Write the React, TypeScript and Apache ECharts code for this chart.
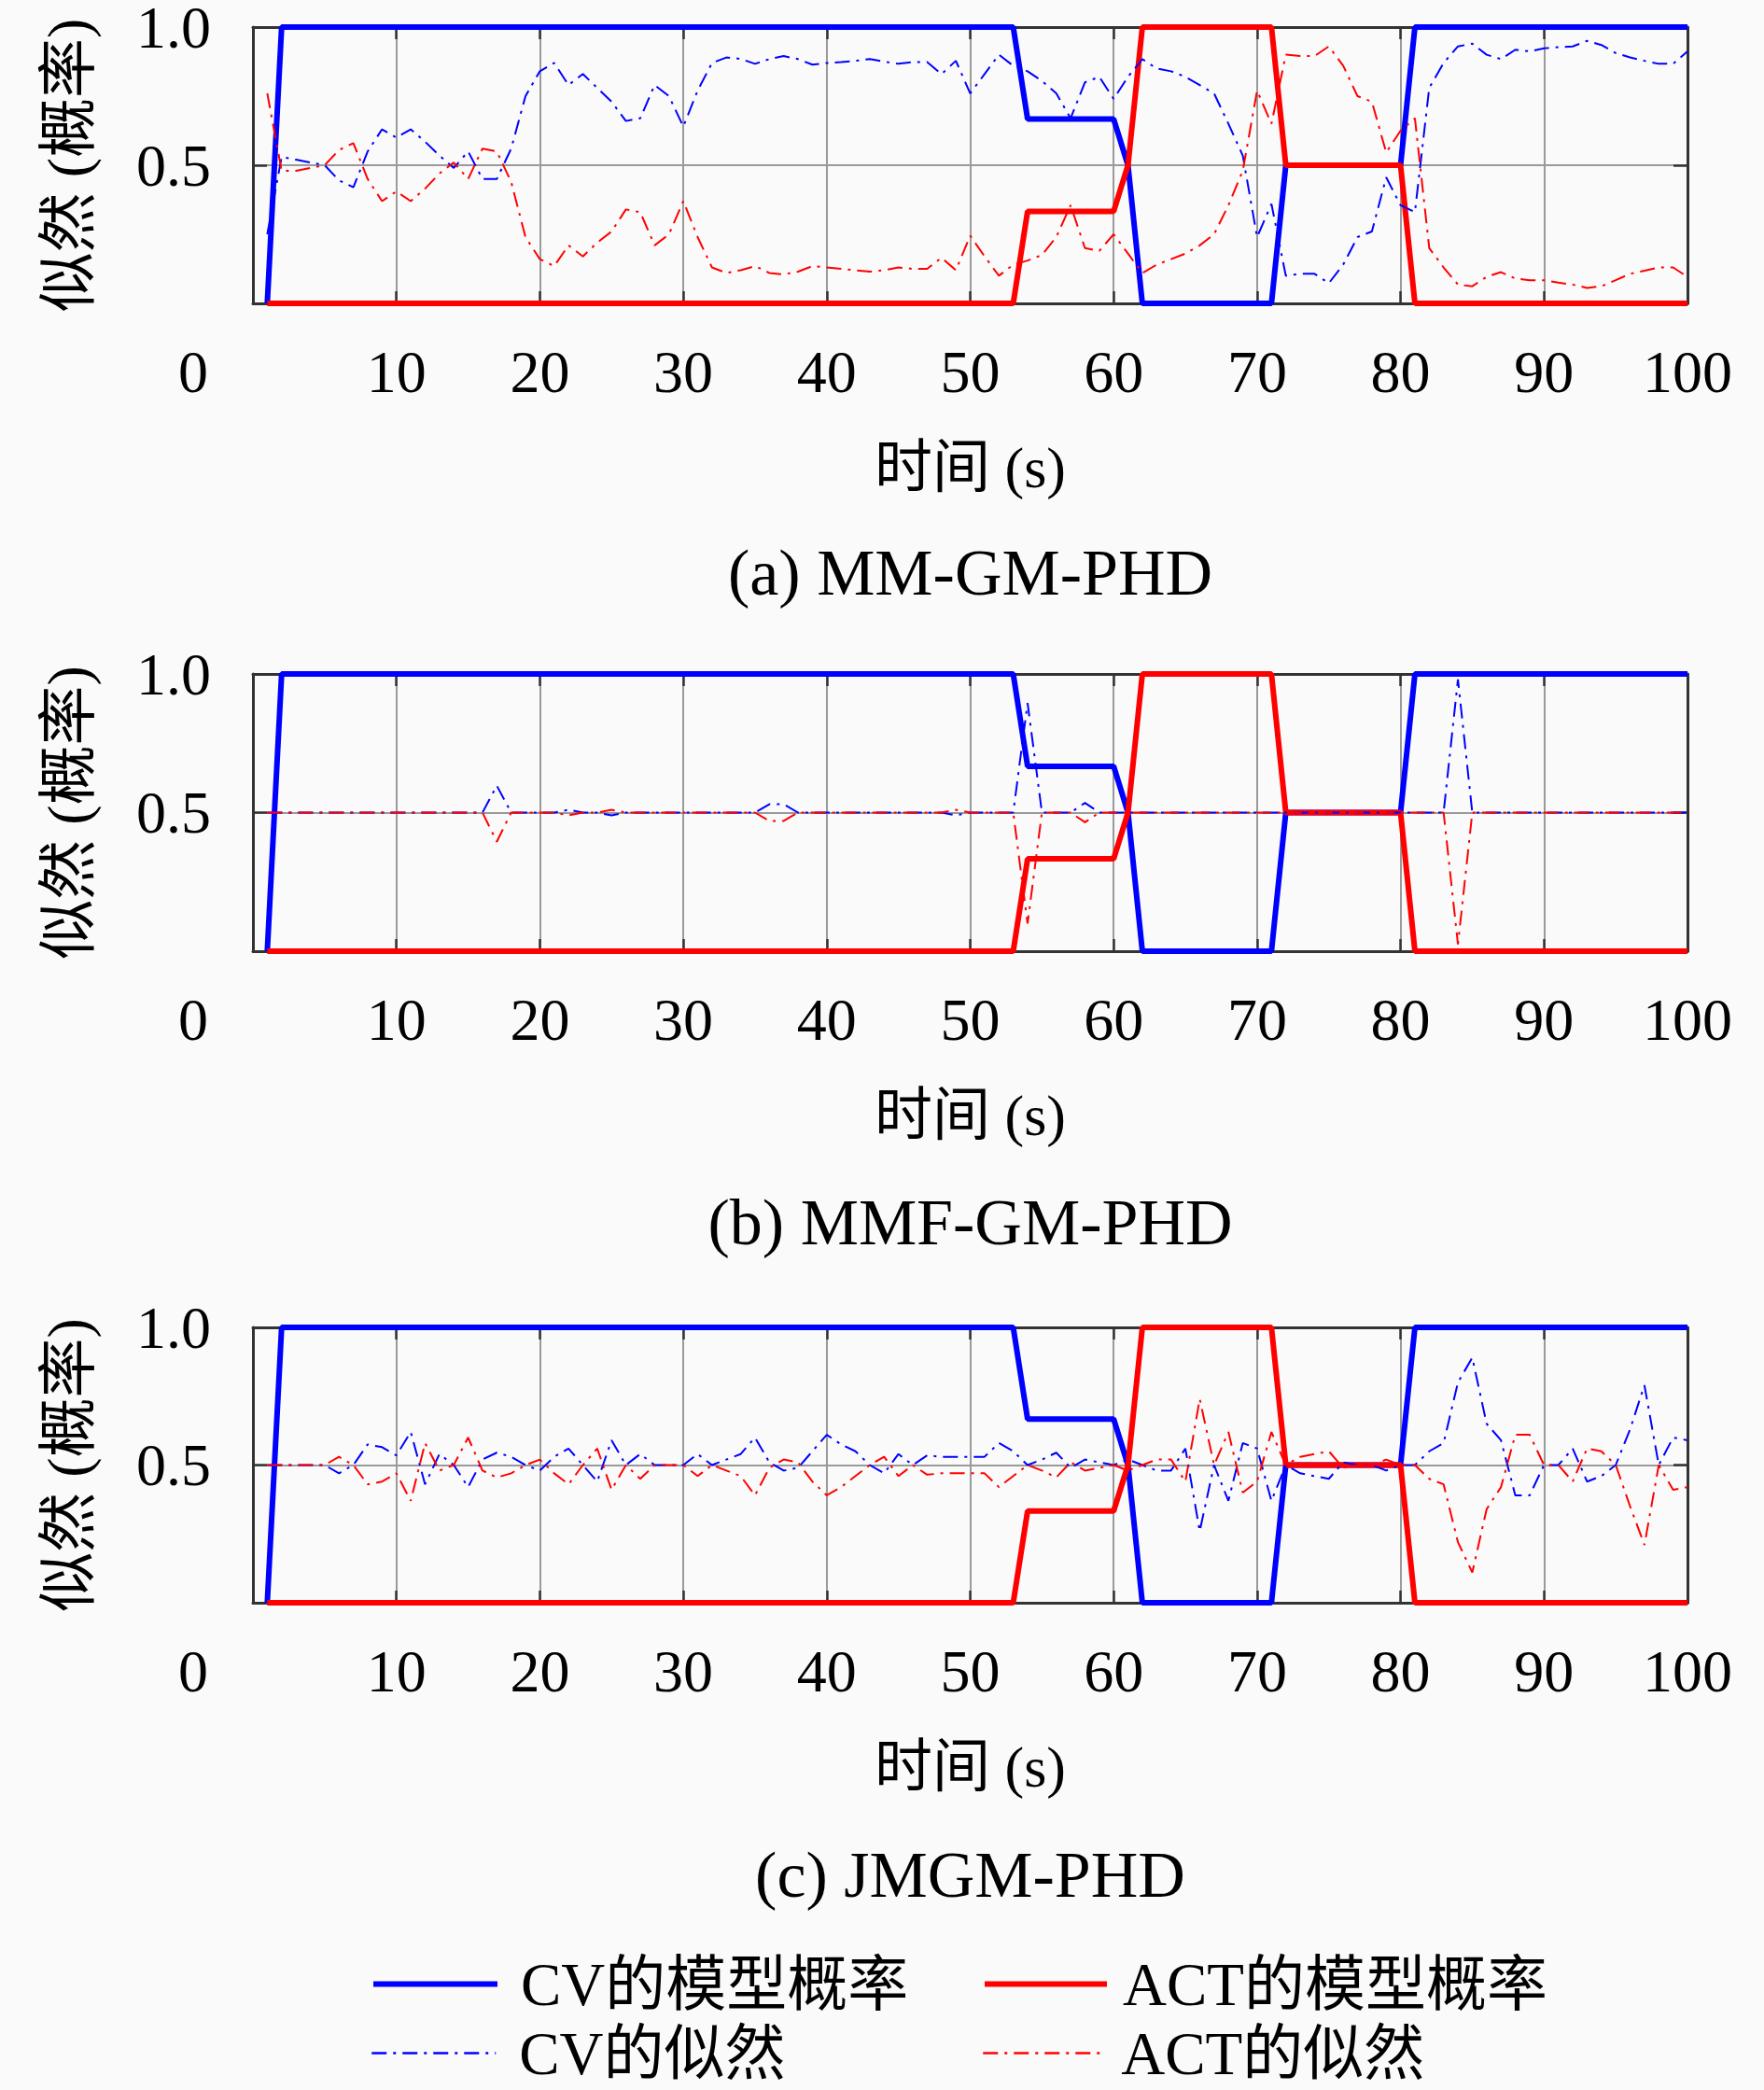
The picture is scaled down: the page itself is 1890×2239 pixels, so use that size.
import React, { useEffect, useRef } from 'react';
import * as echarts from 'echarts';

// ---------------- data ----------------
const TIME = [
  1, 2, 3, 4, 5, 6, 7, 8, 9, 10,
  11, 12, 13, 14, 15, 16, 17, 18, 19, 20,
  21, 22, 23, 24, 25, 26, 27, 28, 29, 30,
  31, 32, 33, 34, 35, 36, 37, 38, 39, 40,
  41, 42, 43, 44, 45, 46, 47, 48, 49, 50,
  51, 52, 53, 54, 55, 56, 57, 58, 59, 60,
  61, 62, 63, 64, 65, 66, 67, 68, 69, 70,
  71, 72, 73, 74, 75, 76, 77, 78, 79, 80,
  81, 82, 83, 84, 85, 86, 87, 88, 89, 90,
  91, 92, 93, 94, 95, 96, 97, 98, 99, 100,
];

const CV_MODEL = [
  0, 1, 1, 1, 1, 1, 1, 1, 1, 1,
  1, 1, 1, 1, 1, 1, 1, 1, 1, 1,
  1, 1, 1, 1, 1, 1, 1, 1, 1, 1,
  1, 1, 1, 1, 1, 1, 1, 1, 1, 1,
  1, 1, 1, 1, 1, 1, 1, 1, 1, 1,
  1, 1, 1, 0.667, 0.667, 0.667, 0.667, 0.667, 0.667, 0.667,
  0.5, 0, 0, 0, 0, 0, 0, 0, 0, 0,
  0, 0.5, 0.5, 0.5, 0.5, 0.5, 0.5, 0.5, 0.5, 0.5,
  1, 1, 1, 1, 1, 1, 1, 1, 1, 1,
  1, 1, 1, 1, 1, 1, 1, 1, 1, 1,
];

const ACT_MODEL = [
  0, 0, 0, 0, 0, 0, 0, 0, 0, 0,
  0, 0, 0, 0, 0, 0, 0, 0, 0, 0,
  0, 0, 0, 0, 0, 0, 0, 0, 0, 0,
  0, 0, 0, 0, 0, 0, 0, 0, 0, 0,
  0, 0, 0, 0, 0, 0, 0, 0, 0, 0,
  0, 0, 0, 0.333, 0.333, 0.333, 0.333, 0.333, 0.333, 0.333,
  0.5, 1, 1, 1, 1, 1, 1, 1, 1, 1,
  1, 0.5, 0.5, 0.5, 0.5, 0.5, 0.5, 0.5, 0.5, 0.5,
  0, 0, 0, 0, 0, 0, 0, 0, 0, 0,
  0, 0, 0, 0, 0, 0, 0, 0, 0, 0,
];

// (a) MM-GM-PHD
const CV_LIK_A = [
  0.25, 0.53, 0.52, 0.51, 0.5, 0.445, 0.42, 0.55, 0.63, 0.6,
  0.63, 0.585, 0.535, 0.49, 0.55, 0.45, 0.45, 0.56, 0.75, 0.84,
  0.87, 0.79, 0.83, 0.78, 0.73, 0.66, 0.67, 0.79, 0.75, 0.64,
  0.77, 0.87, 0.89, 0.885, 0.867, 0.884, 0.895, 0.884, 0.864, 0.87,
  0.873, 0.878, 0.884, 0.875, 0.867, 0.873, 0.873, 0.83, 0.878, 0.76,
  0.83, 0.9, 0.86, 0.84, 0.805, 0.76, 0.67, 0.8, 0.82, 0.74,
  0.82, 0.884, 0.85, 0.84, 0.82, 0.79, 0.76, 0.65, 0.535, 0.24,
  0.36, 0.1, 0.107, 0.107, 0.073, 0.14, 0.24, 0.26, 0.456, 0.355,
  0.33, 0.78, 0.87, 0.93, 0.94, 0.9, 0.884, 0.918, 0.912, 0.923,
  0.927, 0.93, 0.95, 0.935, 0.906, 0.89, 0.878, 0.867, 0.867, 0.912,
];
const ACT_LIK_A = [
  0.76, 0.48, 0.48, 0.49, 0.5, 0.555, 0.58, 0.45, 0.37, 0.405,
  0.37, 0.415, 0.47, 0.51, 0.45, 0.56, 0.55, 0.44, 0.24, 0.16,
  0.135, 0.21, 0.17, 0.22, 0.26, 0.34, 0.33, 0.21, 0.25, 0.37,
  0.24, 0.13, 0.11, 0.12, 0.135, 0.11, 0.105, 0.115, 0.135, 0.13,
  0.125, 0.12, 0.115, 0.12, 0.13, 0.125, 0.125, 0.165, 0.12, 0.245,
  0.17, 0.1, 0.14, 0.155, 0.175, 0.24, 0.355, 0.2, 0.19, 0.25,
  0.18, 0.11, 0.14, 0.16, 0.18, 0.21, 0.25, 0.355, 0.48, 0.77,
  0.65, 0.9, 0.895, 0.895, 0.93, 0.86, 0.75, 0.73, 0.546, 0.625,
  0.67, 0.2, 0.13, 0.068, 0.062, 0.096, 0.113, 0.09, 0.084, 0.084,
  0.075, 0.068, 0.056, 0.062, 0.084, 0.107, 0.118, 0.13, 0.13, 0.096,
];

// (b) MMF-GM-PHD
const CV_LIK_B = [
  0.5, 0.5, 0.5, 0.5, 0.5, 0.5, 0.5, 0.5, 0.5, 0.5,
  0.5, 0.5, 0.5, 0.5, 0.5, 0.5, 0.597, 0.5, 0.5, 0.5,
  0.5, 0.51, 0.5, 0.5, 0.49, 0.5, 0.5, 0.5, 0.5, 0.5,
  0.5, 0.5, 0.5, 0.5, 0.5, 0.53, 0.53, 0.5, 0.5, 0.5,
  0.5, 0.5, 0.5, 0.5, 0.5, 0.5, 0.5, 0.5, 0.49, 0.5,
  0.5, 0.5, 0.5, 0.895, 0.5, 0.5, 0.5, 0.535, 0.5, 0.5,
  0.5, 0.5, 0.5, 0.5, 0.5, 0.5, 0.5, 0.5, 0.5, 0.5,
  0.5, 0.5, 0.5, 0.5, 0.5, 0.5, 0.5, 0.5, 0.5, 0.5,
  0.5, 0.5, 0.5, 0.98, 0.5, 0.5, 0.5, 0.5, 0.5, 0.5,
  0.5, 0.5, 0.5, 0.5, 0.5, 0.5, 0.5, 0.5, 0.5, 0.5,
];
const ACT_LIK_B = [
  0.5, 0.5, 0.5, 0.5, 0.5, 0.5, 0.5, 0.5, 0.5, 0.5,
  0.5, 0.5, 0.5, 0.5, 0.5, 0.5, 0.395, 0.5, 0.5, 0.5,
  0.5, 0.49, 0.5, 0.5, 0.51, 0.5, 0.5, 0.5, 0.5, 0.5,
  0.5, 0.5, 0.5, 0.5, 0.5, 0.47, 0.47, 0.5, 0.5, 0.5,
  0.5, 0.5, 0.5, 0.5, 0.5, 0.5, 0.5, 0.5, 0.51, 0.5,
  0.5, 0.5, 0.5, 0.1, 0.5, 0.5, 0.5, 0.465, 0.5, 0.5,
  0.5, 0.5, 0.5, 0.5, 0.5, 0.5, 0.5, 0.5, 0.5, 0.5,
  0.5, 0.5, 0.5, 0.5, 0.5, 0.5, 0.5, 0.5, 0.5, 0.5,
  0.5, 0.5, 0.5, 0.025, 0.5, 0.5, 0.5, 0.5, 0.5, 0.5,
  0.5, 0.5, 0.5, 0.5, 0.5, 0.5, 0.5, 0.5, 0.5, 0.5,
];

// (c) JMGM-PHD
const CV_LIK_C = [
  0.5, 0.5, 0.5, 0.5, 0.5, 0.47, 0.5, 0.575, 0.565, 0.535,
  0.62, 0.43, 0.54, 0.5, 0.42, 0.52, 0.545, 0.53, 0.5, 0.48,
  0.53, 0.56, 0.5, 0.44, 0.59, 0.5, 0.54, 0.5, 0.5, 0.5,
  0.54, 0.5, 0.52, 0.54, 0.6, 0.51, 0.48, 0.49, 0.55, 0.61,
  0.575, 0.55, 0.5, 0.47, 0.54, 0.5, 0.535, 0.53, 0.53, 0.53,
  0.53, 0.58, 0.55, 0.5, 0.52, 0.545, 0.49, 0.52, 0.51, 0.5,
  0.52, 0.5, 0.48, 0.48, 0.56, 0.26, 0.5, 0.37, 0.58, 0.56,
  0.37, 0.5, 0.47, 0.46, 0.45, 0.51, 0.5, 0.5, 0.48, 0.5,
  0.5, 0.55, 0.58, 0.8, 0.89, 0.65, 0.59, 0.39, 0.39, 0.5,
  0.5, 0.56, 0.44, 0.46, 0.5, 0.63, 0.79, 0.5, 0.6, 0.59,
];
const ACT_LIK_C = [
  0.5, 0.5, 0.5, 0.5, 0.5, 0.53, 0.5, 0.43, 0.44, 0.47,
  0.37, 0.58, 0.48, 0.5, 0.6, 0.48, 0.455, 0.47, 0.5, 0.52,
  0.47, 0.43, 0.5, 0.56, 0.41, 0.5, 0.45, 0.5, 0.5, 0.5,
  0.46, 0.5, 0.48, 0.46, 0.39, 0.49, 0.52, 0.51, 0.44, 0.39,
  0.42, 0.46, 0.5, 0.53, 0.46, 0.5, 0.465, 0.47, 0.47, 0.47,
  0.47, 0.42, 0.46, 0.5, 0.48, 0.455, 0.51, 0.48, 0.49, 0.5,
  0.48, 0.5, 0.52, 0.52, 0.44, 0.74, 0.5, 0.62, 0.4, 0.44,
  0.62, 0.5, 0.53, 0.54, 0.55, 0.49, 0.5, 0.5, 0.52, 0.5,
  0.5, 0.45, 0.43, 0.22, 0.11, 0.34, 0.42, 0.61, 0.61, 0.5,
  0.5, 0.44, 0.56, 0.55, 0.5, 0.35, 0.21, 0.5, 0.41, 0.42,
];

const CAPTIONS = ['(a) MM-GM-PHD', '(b) MMF-GM-PHD', '(c) JMGM-PHD'];
const CV_LIKS = [CV_LIK_A, CV_LIK_B, CV_LIK_C];
const ACT_LIKS = [ACT_LIK_A, ACT_LIK_B, ACT_LIK_C];
const SERIES_NAMES = ['CV的模型概率', 'ACT的模型概率', 'CV的似然', 'ACT的似然'];
const X_NAME = '时间 (s)';
const Y_NAME = '似然 (概率)';

// ---------------- layout / style ----------------
const SERIF = "'Liberation Serif', 'Noto Sans CJK SC', serif";
const GRID_LEFT = 271;
const GRID_WIDTH = 1537;
const GRID_TOPS = [29, 722, 1422];
const GRID_HEIGHTS = [296, 297, 295];
const CAPTION_Y = [613, 1309, 2008];
const BLUE = '#0000ff';
const RED = '#ff0000';
const FRAME = '#333333';
const GRIDLINE = '#9a9a9a';
const DASH = [16, 7, 3, 7];
const THICK = 6;
const THIN = 2;

function buildOption() {
  const grid: any[] = [];
  const xAxis: any[] = [];
  const yAxis: any[] = [];
  const series: any[] = [];

  const axisLine = { show: true, onZero: false, lineStyle: { color: FRAME, width: 3 } };
  const axisTick = { show: true, inside: true, length: 13, lineStyle: { color: FRAME, width: 2.5 } };

  for (let i = 0; i < 3; i++) {
    grid.push({
      left: GRID_LEFT, top: GRID_TOPS[i], width: GRID_WIDTH, height: GRID_HEIGHTS[i],
      show: false, containLabel: false, outerBoundsMode: 'none',
    });

    xAxis.push({
      gridIndex: i,
      type: 'value',
      position: 'bottom',
      min: 0,
      max: 100,
      interval: 10,
      axisLine,
      axisTick,
      axisLabel: {
        show: true,
        margin: 41,
        color: '#000',
        fontFamily: SERIF,
        fontSize: 64,
        lineHeight: 64,
        showMinLabel: true,
        showMaxLabel: true,
        formatter: (v: number) => (v === 0 ? '{z|0}' : String(v)),
        rich: {
          z: { fontFamily: SERIF, fontSize: 64, lineHeight: 64, color: '#000', padding: [0, 128, 0, 0] },
        },
      },
      splitLine: { show: true, lineStyle: { color: GRIDLINE, width: 2 } },
      name: X_NAME,
      nameLocation: 'middle',
      nameGap: 145,
      nameTextStyle: { fontFamily: SERIF, fontSize: 62, lineHeight: 62, color: '#000' },
    });
    xAxis.push({
      gridIndex: i,
      type: 'value',
      position: 'top',
      min: 0,
      max: 100,
      interval: 10,
      axisLine,
      axisTick,
      axisLabel: { show: false },
      splitLine: { show: false },
    });

    yAxis.push({
      gridIndex: i,
      type: 'value',
      position: 'left',
      min: 0,
      max: 1,
      interval: 0.5,
      axisLine,
      axisTick: { ...axisTick, length: 15 },
      axisLabel: {
        show: true,
        margin: 45,
        color: '#000',
        fontFamily: SERIF,
        fontSize: 64,
        lineHeight: 54,
        formatter: (v: number) => (v === 0 ? '' : v.toFixed(1)),
      },
      splitLine: { show: true, lineStyle: { color: GRIDLINE, width: 2 } },
      name: Y_NAME,
      nameLocation: 'middle',
      nameRotate: 90,
      nameGap: 166,
      nameTextStyle: { fontFamily: SERIF, fontSize: 64, lineHeight: 64, color: '#000' },
    });
    yAxis.push({
      gridIndex: i,
      type: 'value',
      position: 'right',
      min: 0,
      max: 1,
      interval: 0.5,
      axisLine,
      axisTick: { ...axisTick, length: 15 },
      axisLabel: { show: false },
      splitLine: { show: false },
    });

    const xi = 2 * i;
    const yi = 2 * i;
    const mk = (vals: number[]) => TIME.map((t, k) => [t, vals[k]]);
    series.push(
      {
        type: 'line', name: SERIES_NAMES[0], xAxisIndex: xi, yAxisIndex: yi, data: mk(CV_MODEL),
        symbol: 'none', clip: false, lineStyle: { color: BLUE, width: THICK }, itemStyle: { color: BLUE },
      },
      {
        type: 'line', name: SERIES_NAMES[1], xAxisIndex: xi, yAxisIndex: yi, data: mk(ACT_MODEL),
        symbol: 'none', clip: false, lineStyle: { color: RED, width: THICK }, itemStyle: { color: RED },
      },
      {
        type: 'line', name: SERIES_NAMES[2], xAxisIndex: xi, yAxisIndex: yi, data: mk(CV_LIKS[i]),
        symbol: 'none', clip: false, lineStyle: { color: BLUE, width: THIN, type: DASH }, itemStyle: { color: BLUE },
      },
      {
        type: 'line', name: SERIES_NAMES[3], xAxisIndex: xi, yAxisIndex: yi, data: mk(ACT_LIKS[i]),
        symbol: 'none', clip: false, lineStyle: { color: RED, width: THIN, type: DASH }, itemStyle: { color: RED },
      },
    );
  }

  const legendCfg = [
    { left: 397, top: 2093, itemWidth: 133, gap: 20, width: THICK },
    { left: 1052, top: 2093, itemWidth: 131, gap: 12, width: THICK },
    { left: 397, top: 2167, itemWidth: 133, gap: 20, width: 2.5 },
    { left: 1052, top: 2167, itemWidth: 131, gap: 12, width: 2.5 },
  ];
  const legend = SERIES_NAMES.map((name, k) => ({
    data: [name],
    left: legendCfg[k].left,
    top: legendCfg[k].top,
    orient: 'horizontal',
    padding: 0,
    itemWidth: legendCfg[k].itemWidth,
    itemHeight: 58,
    selectedMode: false,
    itemStyle: { color: 'rgba(0,0,0,0)', borderWidth: 0, opacity: 0 },
    lineStyle: { width: legendCfg[k].width },
    textStyle: {
      fontFamily: SERIF, fontSize: 65, lineHeight: 58, color: '#000',
      padding: [0, 0, 0, legendCfg[k].gap],
    },
  }));

  const graphic = CAPTIONS.map((text, i) => ({
    type: 'text',
    x: GRID_LEFT + GRID_WIDTH / 2,
    y: CAPTION_Y[i],
    style: {
      text,
      fill: '#000',
      fontFamily: SERIF,
      fontSize: 70,
      align: 'center',
      verticalAlign: 'middle',
      textAlign: 'center',
      textVerticalAlign: 'middle',
    },
  }));

  return {
    animation: false,
    backgroundColor: '#fafafa',
    grid,
    xAxis,
    yAxis,
    series,
    legend,
    graphic,
  };
}

export default function App() {
  const ref = useRef<HTMLDivElement>(null);
  useEffect(() => {
    if (!ref.current) return;
    const chart = echarts.init(ref.current, null, { renderer: 'svg' });
    chart.setOption(buildOption() as any);
    return () => chart.dispose();
  }, []);
  return (
    <div
      ref={ref}
      style={{ position: 'absolute', left: 0, top: 0, width: 1890, height: 2239 }}
    />
  );
}
